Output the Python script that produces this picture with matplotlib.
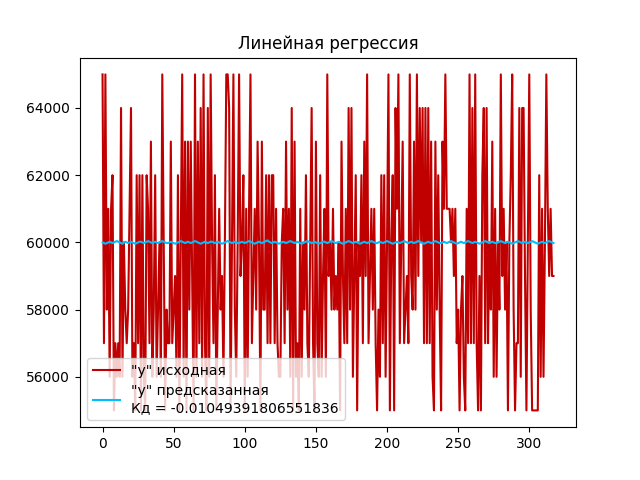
import numpy as np
import matplotlib
matplotlib.use("Agg")
import matplotlib.pyplot as plt

# исходные значения "y", в тысячах
y_thousands = [
    65, 57, 65, 58, 61, 56, 61, 62, 55, 57, 56, 57, 56, 64, 56, 60, 58, 57, 58, 61,
    64, 56, 57, 55, 62, 57, 62, 55, 62, 56, 55, 62, 61, 57, 63, 56,
    58, 62, 56, 58, 60, 56, 65, 60, 55, 58, 57, 57, 63, 57, 58, 59, 56, 62, 55, 60,
    65, 56, 63, 55, 63, 58, 63, 59, 55, 65, 56, 63, 57, 64, 56, 65, 57, 55, 64, 56,
    65, 60, 57, 62, 55, 58, 61, 58, 59, 56, 60, 65, 65, 64, 55, 60, 65, 58, 56, 60,
    65, 59, 60, 62, 55, 61, 56, 61, 65, 57, 59, 61, 58, 63, 60, 55, 63, 58,
    58, 62, 57, 62, 57, 62, 62, 57, 61, 57, 56, 56, 60, 61, 57, 63, 58, 61, 56, 64,
    55, 63, 56, 57, 55, 61, 56, 60, 58, 62, 57, 56, 60, 64, 57, 55, 63, 57, 56,
    62, 56, 59, 61, 56, 65, 59, 60, 58, 61, 58, 59, 58, 60, 55, 63, 59, 57, 61, 57,
    64, 58, 64, 56, 59, 62, 55, 60, 59, 62, 57, 63, 59, 65, 57, 59, 61, 58,
    61, 57, 55, 58, 56, 62, 57, 62, 56, 60, 65, 55, 60, 62, 55, 64, 61, 65, 57, 60,
    63, 57, 58, 59, 57, 65, 59, 58, 63, 58, 65, 59, 64, 60, 64, 57, 64, 57,
    64, 57, 63, 56, 55, 63, 58, 62, 58, 55, 63, 61, 65, 61, 61, 61, 60, 61, 59, 61,
    57, 58, 55, 58, 59, 56, 55, 61, 57, 65, 57, 64, 57, 65, 57, 55,
    59, 55, 62, 64, 57, 64, 57, 60, 58, 63, 56, 61, 56, 60, 58, 65, 59, 61, 58, 60,
    55, 60, 62, 65, 58, 55, 57, 57, 64, 56, 64, 64, 59, 55, 60, 65, 58, 55, 55, 55,
    55, 55, 62, 56, 61, 56, 60, 65, 61, 59, 61, 59, 59,
]

# отклонения предсказанного "y" от 60000, в единицах по 20
pred_offsets = [
    0, -1, -2, -1, 0, 1, 0, -1, 0, 1, 2, 1, 0, -1, -2, 0, 1, 0, -1, 0,
    1, 0, -1, -2, -1, 0, 1, 1, 0, -1, 0, 1, 2, 1, 0, -1, 0, 1, 0, -1,
    0, 1, 2, 1, 0, -1, -1, 0, 1, 0, -1, -2, -1, 0, 1, 2, 1, 0, -1, 0,
    1, 0, -1, 0, 1, 2, 1, 0, -1, -2, -1, 0, 1, 0, -1, 0, 1, 1, 0, -1,
    0, 1, 0, -1, -2, -1, 0, 1, 2, 1, 0, -1, 0, 1, 0, -1, -1, 0, 1, 0,
    -1, 0, 1, 2, 1, 0, -1, -2, -1, 0, 1, 0, -1, 0, 1, 2, 3, 1, 0, -1,
    0, 1, 0, -1, -2, -1, 0, 1, 0, -1, 0, 1, 2, 1, 0, -1, 0, 1, 0, -1,
    -2, -1, 0, 1, 2, 1, 0, -1, 0, 1, 0, -1, -2, -1, 0, 1, 1, 0, -1, 0,
    1, 2, 1, 0, -1, 0, 1, 0, -1, -2, -1, 0, 1, 2, 1, 0, -1, 0, 1, 0,
    -1, -2, -1, 0, 1, 0, -1, 0, 1, 2, 1, 0, -1, -1, 0, 1, 0, -1, 0, 1,
    2, 1, 0, -1, -2, -1, 0, 1, 0, -1, 0, 1, 2, 1, 0, -1, 0, 1, 0, -1,
    0, 1, 2, 1, 0, -1, -2, -1, 0, 1, 0, -1, 0, 1, 2, 1, 0, -1, -1, 0,
    1, 0, -1, 0, 1, 2, 1, 0, -1, -2, -1, 0, 1, 0, -1, 0, 1, 2, 1, 0,
    -1, 0, 1, 0, -1, -2, -1, 0, 1, 2, 1, 0, -1, 0, 1, 0, -1, -1, 0, 1,
    2, 1, 0, -1, 0, 1, 0, -1, -2, -1, 0, 1, 2, 1, 0, -1, 0, 1, 0, -1,
    0, 1, 2, 1, 0, -1, -2, -1, 0, 1, 0, -1, 0, 1, 2, 1, 0, -1,
]

kd = "-0.01049391806551836"
title = "Линейная регрессия"
label_src = '"y" исходная'
label_pred = '"y" предсказанная\nКд = ' + kd


def plot_regress(y: np.ndarray, y_pred: np.ndarray):
    x = np.arange(len(y))
    fig, ax = plt.subplots(figsize=(6.4, 4.8), dpi=100)
    ax.plot(x, y, color="#c00000", label=label_src)
    ax.plot(x, y_pred, color="#00bfff", label=label_pred)
    ax.set_title(title)
    ax.legend(loc="lower left")
    fig.savefig("out.png")


def main():
    y = np.array(y_thousands) * 1000
    y_pred = 60000 + np.array(pred_offsets) * 20
    plot_regress(y, y_pred)


if __name__ == "__main__":
    main()
